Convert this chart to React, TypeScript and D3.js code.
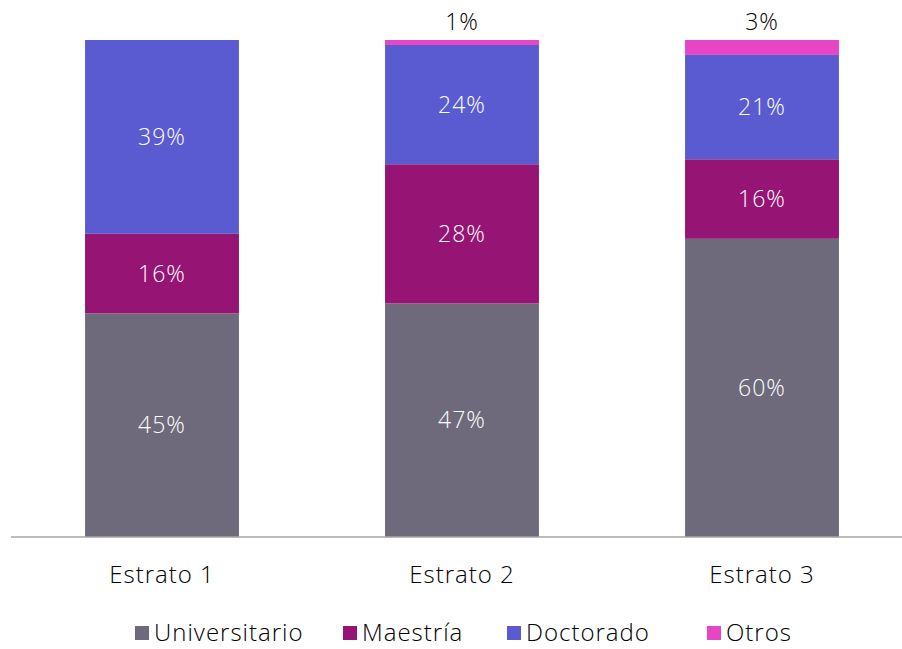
import React from "react";
import { scaleBand, scaleLinear, stack } from "d3";

const categories = ["Estrato 1", "Estrato 2", "Estrato 3"];
const seriesKeys = ["Universitario", "Maestría", "Doctorado", "Otros"];
const universitario = [45, 47, 60];
const maestria = [16, 28, 16];
const doctorado = [39, 24, 21];
const otros = [0, 1, 3];
const colors = ["#6e6a7c", "#961474", "#5b5bd1", "#e645c6"];
const legendX = [135, 343, 507, 707];

function App() {
  const width = 902;
  const height = 649;
  const baseline = 537;
  const top = 40;
  const font = "'Century Gothic', 'Open Sans', sans-serif";

  const rows = categories.map((c, i) => ({
    category: c,
    Universitario: universitario[i],
    Maestría: maestria[i],
    Doctorado: doctorado[i],
    Otros: otros[i],
  }));
  const stacked = stack().keys(seriesKeys)(rows as any);

  const xScale = scaleBand()
    .domain(categories)
    .range([12, 912])
    .paddingInner(0.487)
    .paddingOuter(0.2435);
  const yScale = scaleLinear().domain([0, 100]).range([baseline, top]);

  return (
    <svg
      width={width}
      height={height}
      style={{ position: "absolute", left: 0, top: 0, fontFamily: font, fontWeight: 300 }}
    >
      {stacked.map((layer, li) => (
        <g key={layer.key} fill={colors[li]}>
          {layer.map((d, i) => {
            const v = d[1] - d[0];
            if (v <= 0) return null;
            const x = xScale(categories[i]) as number;
            const y0 = yScale(d[0]);
            const y1 = yScale(d[1]);
            const isTop = layer.key === "Otros";
            return (
              <g key={i}>
                <rect x={x} y={y1} width={xScale.bandwidth()} height={y0 - y1} />
                <text
                  x={x + xScale.bandwidth() / 2}
                  y={isTop ? y1 - 18 : (y0 + y1) / 2}
                  dy=".35em"
                  textAnchor="middle"
                  fontSize={23}
                  letterSpacing={1}
                  fill={isTop ? "#000" : "#fff"}
                >
                  {v}%
                </text>
              </g>
            );
          })}
        </g>
      ))}
      <line x1={11} x2={width} y1={baseline} y2={baseline} stroke="#a6a6a6" strokeWidth={1.5} />
      {categories.map((c) => (
        <text
          key={c}
          x={(xScale(c) as number) + xScale.bandwidth() / 2}
          y={575}
          dy=".35em"
          textAnchor="middle"
          fontSize={24}
          letterSpacing={1}
          fill="#000"
        >
          {c}
        </text>
      ))}
      {seriesKeys.map((k, i) => (
        <g key={k} transform={`translate(${legendX[i]},633)`}>
          <rect x={0} y={-7} width={14} height={14} fill={colors[i]} />
          <text x={19} dy=".35em" fontSize={24} letterSpacing={1} fill="#000">
            {k}
          </text>
        </g>
      ))}
    </svg>
  );
}

export default App;
